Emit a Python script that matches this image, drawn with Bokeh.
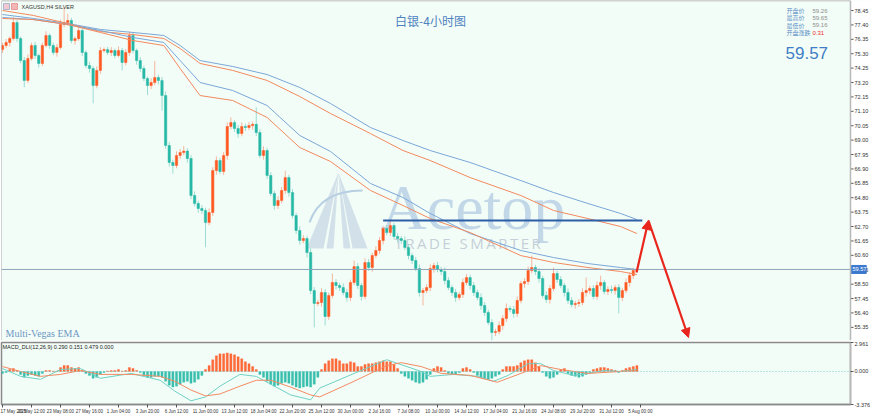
from bokeh.plotting import figure
from bokeh.layouts import column
from bokeh.models import (Range1d, FixedTicker, NumeralTickFormatter, Label, Span,
                          Arrow, NormalHead, ColumnDataSource, BoxAnnotation)
from bokeh.core.properties import value
from bokeh.embed import file_html
from bokeh.resources import INLINE

# ---------------- data ----------------
# x positions are 4H-bar indices; each candle drawn covers two 4H bars
first_open = 75.60
closes = [
    75.90, 76.12, 76.41, 77.57, 76.41, 74.80, 73.35, 74.95, 75.90, 75.17,
    74.59, 75.90, 76.63, 75.90, 75.39, 75.75, 77.43, 77.57, 77.72, 76.26,
    76.40, 76.99, 75.39, 74.44, 74.22, 72.98, 74.08, 75.53, 75.60, 75.39,
    75.53, 75.17, 75.53, 74.66, 75.39, 76.63, 75.53, 74.80, 74.22, 73.49,
    72.98, 73.20, 73.57, 73.35, 72.25, 68.61, 67.37, 67.15, 67.88, 68.10,
    68.20, 67.66, 64.96, 64.38, 64.01, 63.87, 62.99, 63.72, 66.78, 67.51,
    66.71, 67.88, 69.99, 70.28, 69.85, 69.48, 69.99, 69.92, 70.06, 70.15,
    69.55, 67.88, 68.24, 66.42, 65.11, 64.23, 64.60, 65.33, 66.27, 65.18,
    63.50, 62.41, 61.68, 61.82, 60.80, 58.03, 57.09, 57.16, 57.89, 56.14,
    57.67, 58.62, 58.40, 58.25, 57.89, 57.52, 58.62, 59.78, 58.40, 57.60,
    60.08, 59.71, 60.59, 60.95, 61.68, 62.55, 62.26, 62.77, 61.97, 61.82,
    61.68, 61.17, 60.59, 60.22, 59.64, 57.89, 58.03, 58.25, 59.64, 59.86,
    59.56, 59.42, 58.76, 58.25, 57.89, 57.52, 57.74, 58.62, 58.98, 58.40,
    57.89, 57.52, 56.94, 56.43, 55.70, 54.97, 55.04, 55.48, 55.99, 56.72,
    56.65, 56.36, 57.30, 58.54, 58.69, 59.49, 59.71, 59.42, 58.91, 57.67,
    57.38, 58.18, 59.27, 58.84, 58.40, 57.89, 57.30, 57.01, 57.09, 57.16,
    57.89, 58.03, 58.18, 57.60, 58.40, 58.62, 57.96, 58.10, 58.03, 58.25,
    57.52, 58.03, 58.62, 59.13, 59.49, 59.57]
upper_wick = [
    0.20, 0.25, 0.15, 0.40, 0.20, 0.15, 0.25, 0.30, 0.20, 0.25,
    0.15, 0.20, 0.30, 0.15, 0.20, 0.25, 0.35, 1.10, 0.50, 0.20,
    0.15, 0.30, 0.20, 0.15, 0.25, 0.20, 0.30, 0.25, 0.15, 0.20,
    0.25, 0.15, 0.30, 0.20, 0.25, 0.30, 0.20, 0.15, 0.25, 0.20,
    0.15, 0.30, 1.20, 0.20, 0.25, 0.30, 0.25, 0.20, 0.30, 0.25,
    0.36, 0.20, 0.25, 0.30, 0.20, 0.25, 0.20, 0.30, 0.25, 0.30,
    0.20, 0.25, 0.30, 0.37, 0.20, 0.25, 0.30, 0.20, 0.25, 0.20,
    1.24, 0.25, 0.30, 0.20, 0.25, 0.20, 0.30, 0.25, 0.50, 0.20,
    0.25, 0.20, 0.30, 0.25, 0.20, 0.30, 0.25, 0.20, 0.30, 0.25,
    0.20, 0.65, 0.25, 0.20, 0.30, 0.25, 0.20, 0.44, 0.25, 0.20,
    0.30, 0.25, 0.20, 0.30, 0.25, 0.20, 0.25, 0.35, 0.20, 0.25,
    0.20, 0.30, 0.25, 0.20, 0.25, 0.30, 0.20, 0.25, 0.30, 0.20,
    0.25, 0.20, 0.30, 0.25, 0.20, 0.25, 0.20, 0.30, 0.25, 0.20,
    0.25, 0.20, 0.30, 0.25, 0.20, 0.25, 0.20, 0.30, 0.25, 0.37,
    0.20, 0.25, 0.30, 0.20, 0.25, 0.30, 0.87, 0.20, 0.25, 0.20,
    0.30, 0.25, 0.44, 0.20, 0.25, 0.20, 0.30, 0.25, 0.20, 0.25,
    0.30, 0.95, 0.20, 0.25, 0.30, 0.50, 0.20, 0.25, 0.30, 0.20,
    0.25, 0.20, 0.30, 0.25, 0.20, 0.08]
lower_wick = [
    0.25, 0.20, 0.30, 0.15, 0.25, 0.20, 0.50, 0.20, 0.15, 0.25,
    0.30, 0.20, 0.15, 0.25, 0.20, 0.30, 0.15, 0.20, 0.25, 0.20,
    0.30, 0.15, 0.25, 0.20, 0.30, 1.30, 0.20, 0.25, 0.15, 0.20,
    0.25, 0.20, 0.15, 0.58, 0.20, 0.25, 0.20, 0.30, 0.25, 0.20,
    0.70, 0.25, 0.20, 0.30, 1.10, 0.25, 0.30, 0.60, 0.20, 0.25,
    0.20, 0.30, 0.25, 0.20, 0.30, 0.25, 1.80, 0.20, 0.25, 0.30,
    0.20, 0.25, 0.30, 0.20, 0.25, 0.30, 0.20, 0.25, 0.20, 0.30,
    0.25, 0.20, 0.30, 0.25, 0.20, 0.30, 0.25, 0.20, 0.25, 0.30,
    0.20, 0.25, 0.30, 0.20, 0.36, 0.25, 1.75, 0.20, 0.30, 0.66,
    0.25, 0.20, 0.30, 0.25, 0.20, 0.30, 0.25, 0.20, 0.25, 0.30,
    0.20, 0.25, 0.30, 0.20, 0.25, 0.30, 0.20, 0.25, 0.20, 0.30,
    0.25, 0.20, 0.30, 0.25, 0.20, 0.30, 0.95, 0.20, 0.25, 0.30,
    0.20, 0.25, 0.30, 0.20, 0.25, 0.30, 0.20, 0.25, 0.20, 0.30,
    0.25, 0.20, 0.30, 0.25, 0.20, 0.58, 0.25, 0.20, 0.30, 0.25,
    0.20, 0.30, 0.25, 0.20, 0.30, 0.25, 0.20, 0.25, 0.30, 0.20,
    0.25, 0.30, 0.20, 0.25, 0.20, 0.30, 0.25, 0.20, 0.30, 0.25,
    0.20, 0.30, 0.25, 0.20, 0.25, 0.30, 0.20, 0.25, 0.20, 0.30,
    1.16, 0.25, 0.20, 0.30, 0.25, 0.10]

# Vegas EMA lines (bar index, price)
ema_bars = [0, 17, 36, 54, 72, 89, 98, 109, 127, 146, 164, 181, 203, 221, 236, 258, 286, 304, 323, 341, 350]
ema_blue_upper = [78.16, 77.87, 77.50, 77.07, 76.85, 76.63, 75.90, 74.80, 74.37, 73.78, 72.84,
                  71.67, 69.92, 68.97, 68.24, 67.37, 66.05, 65.18, 64.38, 63.65, 63.21]
ema_orange_upper = [78.45, 78.09, 77.50, 76.92, 76.70, 76.41, 75.68, 74.59, 74.08, 73.35, 72.18,
                    70.94, 69.48, 68.24, 67.51, 66.27, 64.96, 63.87, 63.28, 62.70, 62.19]
ema_blue_lower = [77.94, 77.79, 77.43, 76.99, 76.48, 76.12, 74.80, 73.20, 72.62, 71.52, 69.34,
                  68.17, 65.84, 64.81, 63.65, 62.19, 60.95, 60.44, 60.00, 59.71, 59.56]
ema_orange_lower = [77.87, 77.79, 77.43, 76.85, 76.26, 75.90, 74.22, 72.25, 71.89, 70.65, 68.46,
                    67.44, 65.33, 64.23, 63.28, 62.26, 60.58, 60.08, 59.71, 59.42, 59.20]

# MACD histogram (one value per drawn candle)
macd_hist = [
    -0.2, -0.1, 0.2, 0.3, 0.1, -0.3, -0.6, -0.4, -0.3, -0.4,
    -0.5, -0.2, 0.1, 0.1, 0.05, 0.05, 0.4, 0.6, 0.6, 0.4,
    0.3, 0.4, 0.1, -0.2, -0.4, -0.7, -0.6, -0.3, -0.1, 0.05,
    0.1, 0.1, 0.2, 0.05, 0.1, 0.4, 0.3, 0.1, -0.1, -0.4,
    -0.6, -0.6, -0.5, -0.5, -0.6, -1.0, -1.4, -1.6, -1.5, -1.3,
    -1.1, -1.0, -1.2, -1.1, -0.8, -0.4, 0.2, 0.6, 1.2, 1.6,
    1.8, 1.8, 1.9, 1.8, 1.7, 1.5, 1.3, 1.0, 0.8, 0.5,
    0.2, -0.3, -0.6, -1.0, -1.3, -1.5, -1.4, -1.2, -1.1, -1.2,
    -1.4, -1.6, -1.7, -1.6, -1.5, -1.6, -1.3, -0.6, 0.2, 0.8,
    1.1, 1.3, 1.3, 1.1, 0.8, 0.8, 1.0, 0.9, 0.5, 0.5,
    0.7, 0.8, 0.8, 0.9, 1.0, 1.1, 1.0, 1.0, 0.7, 0.3,
    -0.2, -0.5, -0.7, -0.9, -1.1, -1.2, -1.1, -0.8, -0.3, 0.3,
    0.5, 0.4, 0.1, -0.2, -0.3, -0.3, -0.1, 0.3, 0.4, 0.2,
    -0.1, -0.4, -0.6, -0.7, -0.8, -0.7, -0.5, -0.3, 0.2, 0.5,
    0.5, 0.5, 0.6, 0.9, 1.1, 1.2, 1.2, 0.9, 0.5, -0.1,
    -0.5, -0.7, -0.6, -0.3, 0.2, 0.3, -0.2, -0.4, -0.5, -0.6,
    -0.5, -0.3, -0.1, 0.2, 0.3, 0.4, 0.4, 0.3, 0.2, 0.1,
    -0.1, 0.1, 0.3, 0.4, 0.5, 0.6]
macd_line_bars = [0, 10, 21, 32, 43, 54, 71, 87, 95, 104, 112, 120, 131, 140, 148, 159, 170, 175,
                  194, 212, 231, 236, 249, 262, 271, 279, 290, 297, 304, 315, 323, 332, 341, 350]
macd_line = [0.3, -0.5, -0.8, 0.2, 0.3, -0.7, -0.2, -0.9, -2.0, -3.0, -2.6, -1.5, -0.3, -0.5, -1.3,
             -2.4, -2.9, -1.7, -0.2, 1.2, 0.0, -0.5, -0.3, -0.5, -1.0, -0.4, 0.8, 0.8, 0.1, -0.4,
             -0.2, 0.1, 0.0, 0.2]
signal_bars = [0, 10, 21, 32, 43, 54, 71, 87, 95, 104, 112, 120, 131, 140, 148, 159, 170, 175,
               194, 212, 220, 231, 242, 258, 273, 286, 297, 308, 323, 341, 350]
signal_line = [0.5, 0.0, -0.5, -0.3, 0.1, -0.3, -0.3, -0.5, -1.0, -1.9, -2.5, -2.3, -1.5, -0.9, -0.9,
               -1.6, -2.4, -2.6, -1.0, 0.6, 0.9, 0.5, -0.2, -0.4, -1.1, -0.2, 0.6, 0.2, -0.2, 0.0, 0.1]

price_ticks = [78.45, 77.40, 76.35, 75.30, 74.25, 73.20, 72.15, 71.10, 70.05, 69.00, 67.95, 66.90,
               65.85, 64.80, 63.75, 62.70, 61.65, 60.60, 59.55, 58.50, 57.45, 56.40, 55.35]
macd_ticks = [-3.376, 0.0, 2.961]
time_tick_bars = [0, 16, 32, 48, 64, 80, 96, 112, 128, 144, 160, 176, 192, 208, 224, 240, 256,
                  272, 288, 304, 320, 336, 352]
time_labels = ["17 May 2025", "20 May 12:00", "23 May 08:00", "27 May 16:00", "1 Jun 04:00",
               "3 Jun 20:00", "6 Jun 12:00", "11 Jun 00:00", "13 Jun 12:00", "18 Jun 04:00",
               "22 Jun 20:00", "25 Jun 12:00", "30 Jun 00:00", "2 Jul 16:00", "7 Jul 08:00",
               "10 Jul 00:00", "14 Jul 12:00", "17 Jul 04:00", "21 Jul 16:00", "24 Jul 08:00",
               "29 Jul 20:00", "31 Jul 12:00", "5 Aug 00:00"]

resistance_level = 63.14
resistance_from_bar, resistance_to_bar = 210, 353
arrow_points = [(349.8, 59.35), (356.4, 63.14), (378.5, 54.61)]

info_names = ["开盘价", "最高价", "最低价", "开盘涨跌"]
info_values = ["59.26", "59.65", "59.16", "0.31"]
last_price = closes[-1]

# ---------------- styling ----------------
BG = "#F3FDF7"
UP = "#FF5A24"
DN = "#27B8A6"
UP_W = "#F6B49C"
DN_W = "#9ADCD2"
BLUE = "#79A7D8"
ORANGE = "#F2895E"
AXIS_FONT = "Liberation Sans"

PX_PER_BAR = 1.8125
Y_LO, Y_HI = 54.39, 79.18
PX_PER_PRICE = 340 / (Y_HI - Y_LO)

# reference-pixel helpers for decorations only
def bx(px):
    return (px - 2) / PX_PER_BAR

def py(px):
    return Y_HI - px / PX_PER_PRICE

X0 = bx(1)            # left edge of the frames
X_AXIS = bx(850)      # price-axis line
X_END = bx(870)

p1 = figure(frame_width=869, frame_height=340, x_range=Range1d(X0, X_END), y_range=Range1d(Y_LO, Y_HI),
            y_axis_location=None, x_axis_location=None, output_backend="svg",
            toolbar_location=None, min_border_left=1, min_border_right=0, min_border_top=0,
            min_border_bottom=1, background_fill_color=BG, border_fill_color="white")
p1.grid.visible = False
p1.outline_line_color = None

# white axis strip + frame lines
p1.add_layout(BoxAnnotation(left=X_AXIS, fill_color="white", fill_alpha=1, line_color=None,
                            level="underlay"))
p1.add_layout(Span(location=X_AXIS, dimension="height", line_color="#B8B8B8", line_width=1.5))
p1.add_layout(Span(location=X0, dimension="height", line_color="#A8A8A8", line_width=1))
p1.segment(x0=[X0], y0=[Y_HI], x1=[X_AXIS], y1=[Y_HI], line_color="#A8A8A8", line_width=1.5)

# watermark
p1.patches(xs=[[bx(306), bx(323), bx(338)], [bx(326), bx(333), bx(338)], [bx(343), bx(350), bx(338)],
               [bx(352), bx(367), bx(338)]],
           ys=[[py(248), py(248), py(172)], [py(248), py(248), py(172)], [py(248), py(248), py(172)],
               [py(248), py(248), py(172)]],
           fill_color="#C9D9E5", line_color=None, fill_alpha=0.8, level="underlay")
p1.quadratic(x0=bx(309), y0=py(222), x1=bx(362), y1=py(190), cx=bx(320), cy=py(190),
             line_color="#B7CFE2", line_width=2, level="underlay")
p1.add_layout(Label(x=bx(380), y=py(207), text="Acetop", text_font="Liberation Serif",
                    text_font_size="64px", text_color="#BCD4E6", text_alpha=0.9,
                    text_baseline="alphabetic", level="underlay"))
p1.add_layout(Label(x=bx(394), y=py(242), text="\u2009".join("TRADE SMARTER"), text_font="Open Sans",
                    text_font_size="15px", text_color="#C5CFD8", text_baseline="middle",
                    level="underlay"))

# candles
opens = [first_open] + closes[:-1]
cx = [2 * i for i in range(len(closes))]
tops = [max(o, c) for o, c in zip(opens, closes)]
bots = [min(o, c) for o, c in zip(opens, closes)]
highs = [t + u for t, u in zip(tops, upper_wick)]
lows = [b - d for b, d in zip(bots, lower_wick)]
up = [c >= o for o, c in zip(opens, closes)]
src = ColumnDataSource(dict(x=cx, top=tops, bottom=bots, high=highs, low=lows,
                            body=[UP if u else DN for u in up],
                            wick=[UP_W if u else DN_W for u in up]))
p1.segment(x0="x", y0="low", x1="x", y1="high", color="wick", line_width=1, source=src)
p1.vbar(x="x", top="top", bottom="bottom", width=1.3, fill_color="body", line_color="body",
        line_width=0.5, source=src)

# EMAs
p1.line(ema_bars, ema_blue_upper, line_color=BLUE, line_width=1)
p1.line(ema_bars, ema_orange_upper, line_color=ORANGE, line_width=1)
p1.line(ema_bars, ema_blue_lower, line_color=BLUE, line_width=1)
p1.line(ema_bars, ema_orange_lower, line_color=ORANGE, line_width=1)

# bid line
p1.segment(x0=[X0], y0=[last_price], x1=[X_AXIS], y1=[last_price], line_color="#8FA5BA", line_width=1)

# resistance + arrows
p1.segment(x0=[resistance_from_bar], y0=[resistance_level], x1=[resistance_to_bar],
           y1=[resistance_level], line_color="#2D5EA6", line_width=2)
RED = "#E8261D"
for (xa, ya), (xb, yb) in zip(arrow_points[:-1], arrow_points[1:]):
    p1.add_layout(Arrow(end=NormalHead(size=9, fill_color=RED, line_color=RED),
                        x_start=xa, y_start=ya, x_end=xb, y_end=yb,
                        line_color=RED, line_width=2.2))

# price axis (drawn inside the right strip)
tick_len = 3 / PX_PER_BAR
p1.segment(x0=[X_AXIS] * len(price_ticks), y0=price_ticks, x1=[X_AXIS + tick_len] * len(price_ticks),
           y1=price_ticks, line_color="#555555", line_width=1)
p1.text(x=[X_AXIS + 4 / PX_PER_BAR] * len(price_ticks), y=price_ticks,
        text=[f"{t:.2f}" for t in price_ticks], text_font=value(AXIS_FONT), text_font_size="5.5px",
        text_color="#333333", text_baseline="middle", text_align="left")
box_w = 15 / PX_PER_BAR
p1.rect(x=[X_AXIS + box_w / 2 + 0.4], y=[last_price], width=box_w, height=8 / PX_PER_PRICE,
        fill_color="#3B79CE", line_color="#3B79CE")
p1.text(x=[X_AXIS + 2 / PX_PER_BAR], y=[last_price], text=[f"{last_price:.2f}"],
        text_font=value(AXIS_FONT), text_font_size="5.5px", text_color="white",
        text_baseline="middle", text_align="left")

# texts
p1.add_layout(Label(x=bx(430), y=py(20), text="白银-4小时图", text_font="Noto Sans CJK SC",
                    text_font_size="12px", text_color="#4E82C1", text_align="center",
                    text_baseline="middle"))
p1.add_layout(Label(x=bx(21), y=py(6), text="XAGUSD,H4  SILVER", text_font="Liberation Sans",
                    text_font_size="5.5px", text_color="#333333", text_baseline="middle"))
p1.rect(x=[bx(6), bx(14)], y=[py(6), py(6)], width=6 / PX_PER_BAR, height=6 / PX_PER_PRICE,
        fill_color=["#F2C9CF", "#F4B7B7"], line_color=["#8CA4C8", "#E28080"], line_width=0.7)
for i, (nm, vl) in enumerate(zip(info_names, info_values)):
    yy = py(10 + 7.4 * i)
    p1.add_layout(Label(x=bx(786), y=yy, text=nm, text_font="Noto Sans CJK SC",
                        text_font_size="6px", text_color="#5C8FC6", text_baseline="middle"))
    p1.add_layout(Label(x=bx(812), y=yy, text=vl, text_font="Liberation Sans",
                        text_font_size="6px", text_color="#F02828" if i == 3 else "#8C8C8C",
                        text_baseline="middle"))
p1.add_layout(Label(x=bx(785), y=py(52), text=f"{last_price:.2f}", text_font="Liberation Sans",
                    text_font_size="17px", text_color="#3F7EC6", text_baseline="middle"))
p1.add_layout(Label(x=bx(5), y=py(333), text="Multi-Vegas EMA", text_font="Liberation Serif",
                    text_font_size="10px", text_color="#6D97C5", text_baseline="alphabetic"))

# ---------------- MACD panel ----------------
p2 = figure(frame_width=849, frame_height=62, x_range=Range1d(X0, X_AXIS), y_range=Range1d(-3.376, 2.961),
            y_axis_location="right", output_backend="svg", toolbar_location=None,
            min_border_left=1, min_border_right=20, min_border_top=1, min_border_bottom=12,
            background_fill_color=BG, border_fill_color="white")
p2.grid.visible = False
p2.outline_line_color = "#8A8A8A"
p2.outline_line_width = 1.5
p2.add_layout(Span(location=0, dimension="width", line_color="#7CC8CC", line_width=1,
                   line_dash="1 2"))
p2.vbar(x=cx, top=macd_hist, bottom=0, width=1.2,
        fill_color=[UP if h >= 0 else DN for h in macd_hist],
        line_color=[UP if h >= 0 else DN for h in macd_hist], line_width=0.3, fill_alpha=0.9)
p2.line(macd_line_bars, macd_line, line_color="#6FD0C4", line_width=1)
p2.line(signal_bars, signal_line, line_color="#F38A63", line_width=1)
p2.add_layout(Label(x=bx(2), y=2.45, text="MACD_DLI(12,26,9) 0.290 0.151 0.479 0.000",
                    text_font="Liberation Sans", text_font_size="5.5px", text_color="#222222",
                    text_baseline="middle"))
ay = p2.yaxis[0]
ay.ticker = FixedTicker(ticks=macd_ticks)
ay.formatter = NumeralTickFormatter(format="0.000")
axx = p2.xaxis[0]
axx.ticker = FixedTicker(ticks=time_tick_bars)
axx.major_label_overrides = {b: t for b, t in zip(time_tick_bars, time_labels)}
axx.major_label_text_align = "left"

for a in [ay, axx]:
    a.axis_line_color = "#B8B8B8"
    a.axis_line_width = 1.5
    a.major_tick_line_color = "#555555"
    a.major_tick_out = 3
    a.major_tick_in = 0
    a.minor_tick_line_color = None
    a.major_label_text_font = AXIS_FONT
    a.major_label_text_font_size = "5.5px"
    a.major_label_text_color = "#333333"
    a.major_label_standoff = 1
axx.major_label_text_font_size = "4.5px"
axx.axis_line_color = "#8A8A8A"

layout = column(p1, p2, spacing=0)
open("out.html", "w").write(file_html(layout, INLINE))
